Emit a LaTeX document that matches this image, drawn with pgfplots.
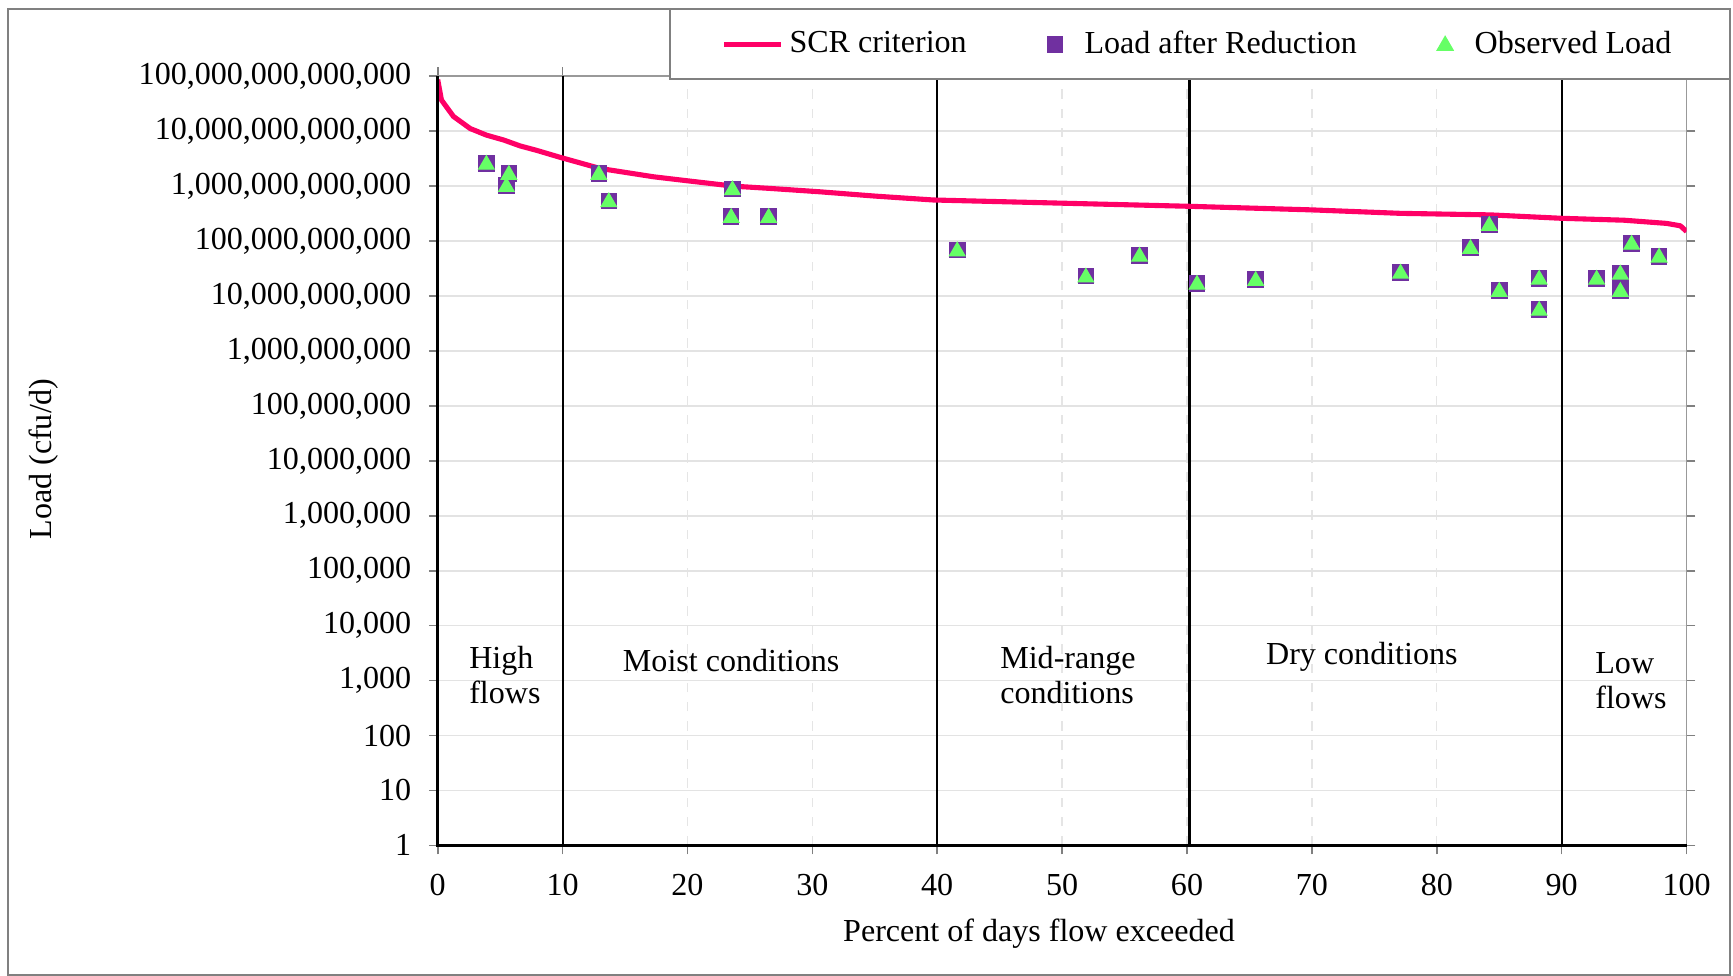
\documentclass[border=0pt]{standalone}
\usepackage{fontspec}
\setmainfont{Liberation Serif}
\usepackage{pgfplots}
\pgfplotsset{compat=1.18}
\definecolor{scrpink}{HTML}{FF0066}
\definecolor{redpurple}{HTML}{7030A0}
\definecolor{obsgreen}{HTML}{66FF66}
\newcommand{\fsz}{\fontsize{10.05}{11.2}\selectfont}
\pgfplotsset{
  lineleg/.style={legend image code/.code={\draw[##1] (0cm,0cm) -- (0.62cm,0cm);}},
  markleg/.style={legend image code/.code={\path[draw=none,fill=none] (0cm,0cm) (0.5cm,0cm);
      \draw[##1] plot coordinates {(0.245cm,0cm)};}},
}

\begin{document}
\begin{tikzpicture}[font=\fsz]
\begin{axis}[
  scale only axis, width=391.5pt, height=241.1pt,
  ymode=log, log basis y=10,
  xmin=0, xmax=100, ymin=1, ymax=1e14,
  xtick={0,10,...,100},
  ytick={1,10,100,1000,1e4,1e5,1e6,1e7,1e8,1e9,1e10,1e11,1e12,1e13,1e14},
  yticklabels={1,10,100,{1,000},{10,000},{100,000},{1,000,000},{10,000,000},{100,000,000},{1,000,000,000},{10,000,000,000},{100,000,000,000},{1,000,000,000,000},{10,000,000,000,000},{100,000,000,000,000}},
  /pgf/number format/assume math mode=true,
  tick align=outside, major tick length=2.8pt,
  tick style={gray, line width=0.5pt},
  minor tick num=0,
  tick label style={font=\fsz},
  yticklabel style={inner sep=0pt, xshift=-5.3pt},
  xticklabel style={inner sep=0pt, yshift=-6pt},
  axis line style={gray!80, line width=0.5pt},
  xmajorgrids, ymajorgrids,
  x grid style={dashed, gray!20, line width=0.4pt},
  y grid style={gray!22, line width=0.5pt},
  xlabel={Percent of days flow exceeded},
  ylabel={Load (cfu/d)},
  label style={font=\fsz},
  x label style={at={(rel axis cs:0.4815,-0.1151)}, anchor=center},
  y label style={at={(rel axis cs:-0.3152,0.5025)}, anchor=center},
  legend columns=3,
  legend cell align=left,
  legend style={at={(axis description cs:0.1852,1.0878)}, anchor=north west,
    draw=gray, fill=white, line width=0.5pt, inner xsep=16pt, inner ysep=4.6pt,
    minimum width=332.3pt, nodes={minimum width=0pt},
    font=\fsz,
    /tikz/every even column/.append style={column sep=18.7pt}},
]
% flow regime boundaries
\addplot[black, line width=0.65pt, forget plot] coordinates {(10,1)(10,1e14)};
\addplot[black, line width=0.65pt, forget plot] coordinates {(40,1)(40,1e14)};
\addplot[black, line width=0.65pt, forget plot] coordinates {(60.2,1)(60.2,1e14)};
\addplot[black, line width=0.65pt, forget plot] coordinates {(90,1)(90,1e14)};

% SCR criterion curve
\addplot[scrpink, line width=1.6pt, line join=round, lineleg] coordinates {
  (0,8.7e13)(0.3,3.7e13)(1.26,1.86e13)(2.6,1.12e13)(3.9,8.5e12)(5.3,6.9e12)
  (6.6,5.4e12)(7.9,4.5e12)(9.9,3.3e12)(13,2.1e12)(17.3,1.48e12)(19.9,1.26e12)
  (23.7,1.0e12)(26.6,9.1e11)(30.6,7.9e11)(35,6.6e11)(39.7,5.6e11)(50,4.9e11)
  (60.2,4.3e11)(70,3.7e11)(77.1,3.2e11)(84.3,3.0e11)(90,2.6e11)(95,2.4e11)
  (98.4,2.1e11)(99.5,1.9e11)(100,1.5e11)};

% load after reduction
\addplot[only marks, mark=square*, mark size=2.4pt,
  mark options={draw=redpurple, fill=redpurple}, markleg] coordinates {
  (3.9,2.6e12)(5.5,1.02e12)(5.7,1.7e12)(12.9,1.7e12)(13.7,5.4e11)(23.6,8.9e11)
  (23.5,2.8e11)(26.5,2.8e11)(41.6,6.9e10)(51.9,2.3e10)(56.2,5.5e10)(60.8,1.7e10)
  (65.5,2.0e10)(77.1,2.7e10)(82.7,7.6e10)(84.2,2.0e11)(85.0,1.26e10)(88.2,2.1e10)
  (88.2,5.7e9)(92.8,2.1e10)(94.7,2.6e10)(94.7,1.26e10)(95.6,9.1e10)(97.8,5.3e10)};

% observed load
\addplot[only marks, mark=triangle*, mark size=2.75pt,
  mark options={draw=obsgreen, fill=obsgreen, yshift=-0.4pt}, markleg] coordinates {
  (3.9,2.6e12)(5.5,1.02e12)(5.7,1.7e12)(12.9,1.7e12)(13.7,5.4e11)(23.6,8.9e11)
  (23.5,2.8e11)(26.5,2.8e11)(41.6,6.9e10)(51.9,2.3e10)(56.2,5.5e10)(60.8,1.7e10)
  (65.5,2.0e10)(77.1,2.7e10)(82.7,7.6e10)(84.2,2.0e11)(85.0,1.26e10)(88.2,2.1e10)
  (88.2,5.7e9)(92.8,2.1e10)(94.7,2.6e10)(94.7,1.26e10)(95.6,9.1e10)(97.8,5.3e10)};

\legend{SCR criterion, Load after Reduction, Observed Load}

\node[anchor=west, align=left, inner sep=0pt] at (axis cs:2.48,1.26e3) {High\\flows};
\node[anchor=center] at (axis cs:23.5,2.3e3) {Moist conditions};
\node[anchor=west, align=left, inner sep=0pt] at (axis cs:45.0,1.26e3) {Mid-range\\conditions};
\node[anchor=center] at (axis cs:74.0,2.75e3) {Dry conditions};
\node[anchor=west, align=left, inner sep=0pt] at (axis cs:92.65,1.0e3) {Low\\flows};

\coordinate (aTL) at (rel axis cs:0,1);
\coordinate (aBL) at (rel axis cs:0,0);
\coordinate (aBR) at (rel axis cs:1,0);
\coordinate (fSW) at (rel axis cs:-0.3443,-0.1684);
\coordinate (fNE) at (rel axis cs:1.0347,1.0878);
\coordinate (bbSW) at (rel axis cs:-0.3505,-0.1697);
\coordinate (bbNE) at (rel axis cs:1.0372,1.0992);
\end{axis}
\draw[black, line width=0.8pt] (aTL) -- (aBL) -- (aBR);
\draw[gray, line width=0.5pt] (fSW) rectangle (fNE);
\pgfresetboundingbox
\path (bbSW) rectangle (bbNE);
\end{tikzpicture}
\end{document}
